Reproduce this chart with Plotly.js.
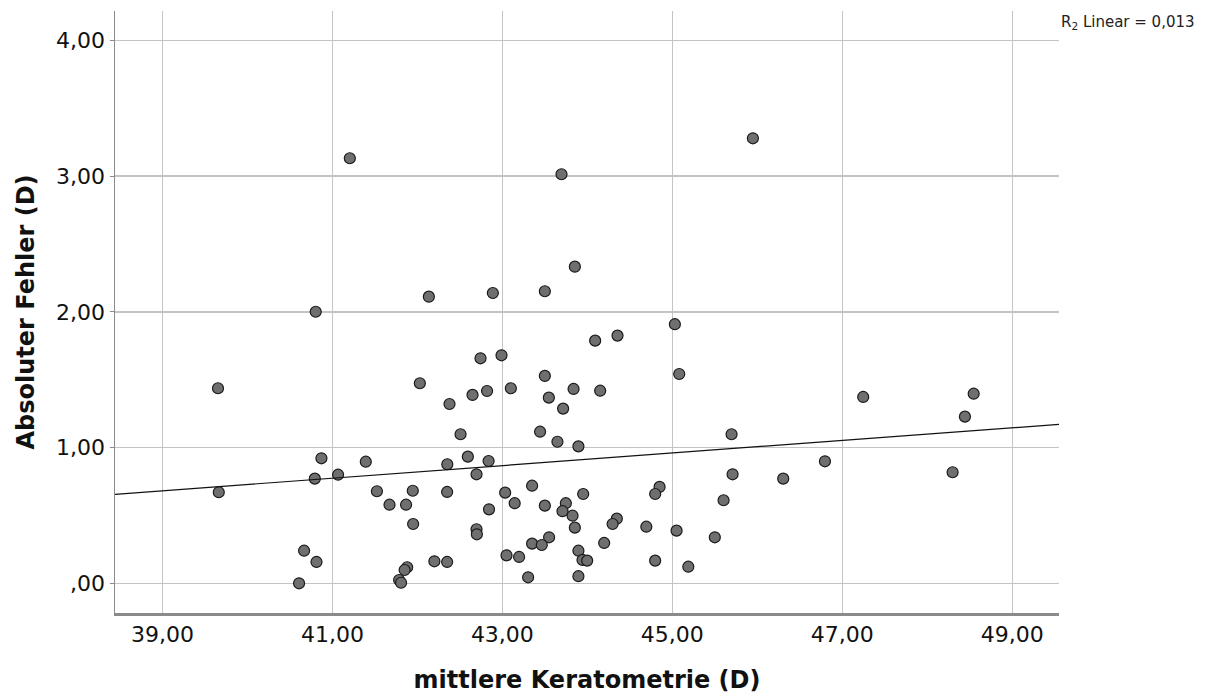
<!DOCTYPE html>
<html>
<head>
<meta charset="utf-8">
<script src="https://cdn.plot.ly/plotly-3.0.1.min.js"></script>
<style>html,body{margin:0;padding:0;background:#fff;}#chart{width:1205px;height:697px;}</style>
</head>
<body>
<div id="chart"></div>
<script>
// mittlere Keratometrie (D)
const keratometrie = [
  41.205, 40.804, 42.135, 42.888, 43.696, 45.948, 43.853, 43.5, 45.03, 39.654,
  39.663, 40.871, 40.793, 41.067, 41.393, 41.524, 41.672, 41.867, 41.946, 41.95,
  42.029, 42.743, 42.99, 42.649, 42.82, 42.378, 42.508, 42.352, 42.594, 42.838,
  42.696, 42.35, 42.843, 42.696, 42.7, 40.667, 40.813, 40.608, 42.2, 42.35,
  41.88, 41.85, 41.785, 41.808, 44.092, 44.355, 45.081, 43.1, 43.5, 43.547,
  43.838, 44.151, 43.715, 43.444, 43.648, 43.895, 45.697, 47.246, 46.796, 45.709,
  46.305, 43.35, 43.033, 43.951, 44.85, 44.798, 45.603, 43.145, 43.5, 43.747,
  43.708, 43.826, 43.853, 44.347, 44.297, 44.694, 45.05, 45.5, 43.55, 43.35,
  43.464, 44.198, 43.049, 43.197, 43.895, 43.943, 43.998, 44.798, 45.188, 43.303,
  43.895, 48.546, 48.443, 48.298
];
// Absoluter Fehler (D)
const absFehler = [
  3.132, 2.001, 2.112, 2.139, 3.014, 3.279, 2.333, 2.152, 1.909, 1.437,
  0.671, 0.921, 0.771, 0.800, 0.896, 0.678, 0.579, 0.579, 0.682, 0.437,
  1.474, 1.658, 1.680, 1.388, 1.417, 1.321, 1.098, 0.877, 0.933, 0.901,
  0.803, 0.673, 0.545, 0.398, 0.361, 0.240, 0.157, 0.000, 0.162, 0.157,
  0.118, 0.098, 0.024, 0.004, 1.788, 1.825, 1.542, 1.437, 1.528, 1.368,
  1.432, 1.419, 1.287, 1.117, 1.043, 1.009, 1.098, 1.373, 0.899, 0.803,
  0.771, 0.719, 0.668, 0.658, 0.710, 0.658, 0.612, 0.590, 0.572, 0.590,
  0.531, 0.498, 0.410, 0.476, 0.437, 0.417, 0.388, 0.339, 0.339, 0.292,
  0.282, 0.297, 0.206, 0.194, 0.240, 0.172, 0.167, 0.167, 0.122, 0.044,
  0.052, 1.397, 1.228, 0.818
];
// Fit line
const fitIntercept = -1.128;
const fitSlope = 0.0464;
const xRange = [38.442, 49.55];
const yRange = [-0.219, 4.217];

const xTickVals = [39, 41, 43, 45, 47, 49];
const xTickText = ['39,00', '41,00', '43,00', '45,00', '47,00', '49,00'];
const yTickVals = [0, 1, 2, 3, 4];
const yTickText = [',00', '1,00', '2,00', '3,00', '4,00'];
const r2Label = 'R<sub>2</sub> Linear = 0,013';

const fitX = xRange.slice();
const fitY = fitX.map(x => fitIntercept + fitSlope * x);

const font = 'DejaVu Sans, Verdana, sans-serif';

const traces = [
  {
    x: keratometrie, y: absFehler, type: 'scatter', mode: 'markers',
    marker: {size: 11, color: '#6f6f6f', line: {color: '#1a1a1a', width: 1.2}},
    hoverinfo: 'x+y', showlegend: false
  },
  {
    x: fitX, y: fitY, type: 'scatter', mode: 'lines',
    line: {color: '#111', width: 1.2}, hoverinfo: 'skip', showlegend: false
  }
];

const layout = {
  width: 1205, height: 697,
  margin: {l: 115, r: 146, t: 11, b: 84},
  paper_bgcolor: '#fff', plot_bgcolor: '#fff',
  font: {family: font, color: '#111'},
  xaxis: {
    range: xRange, tickvals: xTickVals, ticktext: xTickText,
    showgrid: true, gridcolor: '#c4c4c4', gridwidth: 1.5,
    zeroline: false, showline: true, linecolor: '#8a8a8a', linewidth: 2.5,
    ticks: '', tickfont: {size: 22, family: font, color: '#111'},
    title: {text: '<b>mittlere Keratometrie (D)</b>', font: {size: 24, family: font, color: '#111'}, standoff: 26}
  },
  yaxis: {
    range: yRange, tickvals: yTickVals, ticktext: yTickText,
    showgrid: true, gridcolor: '#c4c4c4', gridwidth: 1.5,
    zeroline: false, showline: true, linecolor: '#8a8a8a', linewidth: 1.5,
    ticks: 'outside', ticklen: 4, tickcolor: '#8a8a8a', tickwidth: 1,
    tickfont: {size: 22, family: font, color: '#111'},
    title: {text: '<b>Absoluter Fehler (D)</b>', font: {size: 24, family: font, color: '#111'}, standoff: 14}
  },
  annotations: [
    {
      text: r2Label, xref: 'paper', yref: 'paper', x: 1.0, y: 1.0,
      xanchor: 'left', yanchor: 'top', showarrow: false,
      font: {size: 15, family: font, color: '#222'}
    }
  ]
};

Plotly.newPlot('chart', traces, layout, {displayModeBar: false, staticPlot: true});
</script>
</body>
</html>
